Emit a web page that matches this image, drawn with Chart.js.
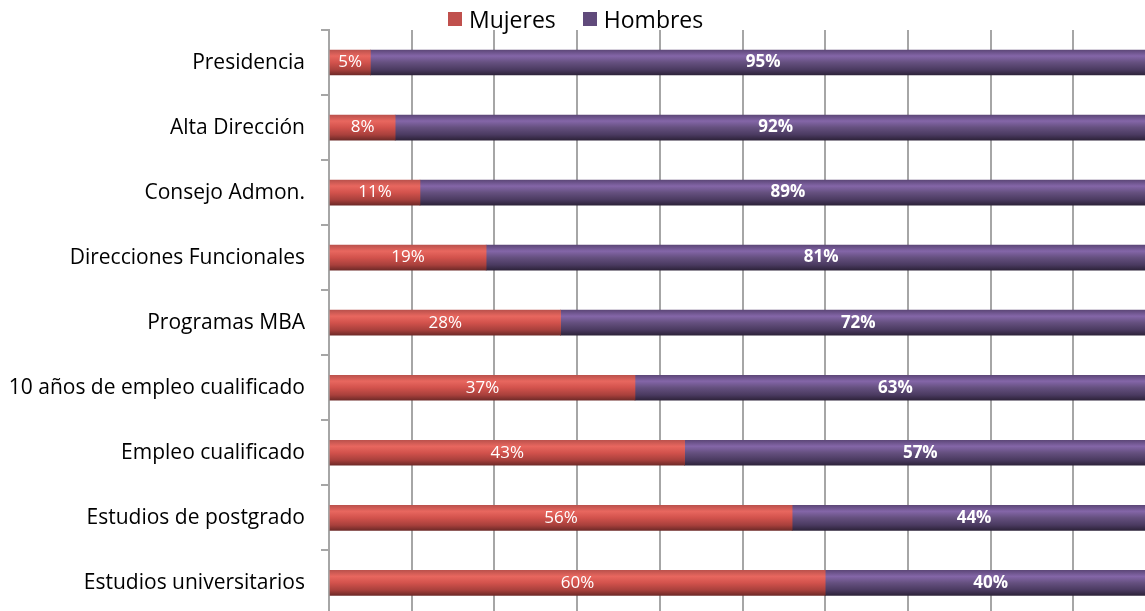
<!DOCTYPE html>
<html>
<head>
<meta charset="utf-8">
<script src="https://cdn.jsdelivr.net/npm/chart.js@4.4.0/dist/chart.umd.min.js"></script>
<style>
  body { margin: 0; overflow: hidden; background: #fff; width: 1145px; height: 611px; position: relative; }
  #wrap { position: absolute; left: 0; top: 0; }
  #legend { position: absolute; left: 448px; top: 3px; display: flex; align-items: center; font-family: "Open Sans", sans-serif; font-size: 23px; color: #000; }
  #legend span.box { display: inline-block; width: 14px; height: 14px; margin-right: 7px; }
  #legend span.item { display: flex; align-items: center; margin-right: 27px; }
</style>
</head>
<body>
<div id="wrap"><canvas id="chart" width="1156" height="644"></canvas></div>
<div id="legend"></div>
<script>
const categories = ['Presidencia', 'Alta Dirección', 'Consejo Admon.', 'Direcciones Funcionales', 'Programas MBA',
    '10 años de empleo cualificado', 'Empleo cualificado', 'Estudios de postgrado', 'Estudios universitarios']
const mujeres = [5, 8, 11, 19, 28, 37, 43, 56, 60]
const hombres = [95, 92, 89, 81, 72, 63, 57, 44, 40]
const seriesNames = ['Mujeres', 'Hombres']
const seriesColors = ['#c0504d', '#604a7b']

// gradient stops to imitate the rounded 3D look of the bars
const gradStops = [
    ['#b8504b', '#e8675f', '#d2524c', '#a8403c', '#6a2826'],
    ['#5a4575', '#8466a8', '#65507f', '#4a3a60', '#2b2137']
]

const legendBox = document.getElementById('legend')
seriesNames.forEach(function (name, i) {
    let item = document.createElement('span')
    item.className = 'item'
    item.innerHTML = '<span class="box" style="background:' + seriesColors[i] + '"></span>' + name
    legendBox.appendChild(item)
})

function barGradient(ctx, s) {
    const chart = ctx.chart
    const yScale = chart.scales.y
    if (!yScale || ctx.dataIndex === undefined) return seriesColors[s]
    const yc = yScale.getPixelForValue(ctx.dataIndex)
    if (!isFinite(yc)) return seriesColors[s]
    const h = 13
    const g = chart.ctx.createLinearGradient(0, yc - h, 0, yc + h)
    g.addColorStop(0, gradStops[s][0])
    g.addColorStop(0.25, gradStops[s][1])
    g.addColorStop(0.5, gradStops[s][2])
    g.addColorStop(0.78, gradStops[s][3])
    g.addColorStop(1, gradStops[s][4])
    return g
}

const barLabels = {
    id: 'barLabels',
    afterDatasetsDraw(chart) {
        const ctx = chart.ctx
        ctx.save()
        ctx.fillStyle = '#ffffff'
        ctx.textAlign = 'center'
        ctx.textBaseline = 'middle'
        chart.data.datasets.forEach(function (ds, i) {
            const meta = chart.getDatasetMeta(i)
            ctx.font = (i === 1 ? 'bold ' : '') + '17px "Open Sans", sans-serif'
            meta.data.forEach(function (bar, j) {
                const p = bar.getProps(['x', 'y', 'base'], true)
                ctx.fillText(ds.data[j] + '%', (p.x + p.base) / 2, p.y)
            })
        })
        ctx.restore()
    }
}

new Chart(document.getElementById('chart'), {
    type: 'bar',
    data: {
        labels: categories,
        datasets: [{
            label: seriesNames[0],
            data: mujeres,
            backgroundColor: function (c) { return barGradient(c, 0) },
            barThickness: 25
        }, {
            label: seriesNames[1],
            data: hombres,
            backgroundColor: function (c) { return barGradient(c, 1) },
            barThickness: 25
        }]
    },
    options: {
        indexAxis: 'y',
        responsive: false,
        animation: false,
        devicePixelRatio: 1,
        layout: { padding: { top: 30, right: 0, bottom: 0, left: 0 } },
        plugins: {
            legend: { display: false },
            tooltip: { enabled: false }
        },
        scales: {
            x: {
                stacked: true,
                min: 0,
                max: 100,
                afterFit: function (scale) { scale.height = 0 },
                ticks: { display: false, stepSize: 10 },
                grid: { color: '#a6a6a6', lineWidth: 2, drawTicks: false },
                border: { display: false }
            },
            y: {
                stacked: true,
                afterFit: function (scale) { scale.width = 329 },
                ticks: { color: '#000', padding: 16, font: { family: '"Open Sans", sans-serif', size: 21 } },
                grid: { offset: true, drawOnChartArea: false, tickLength: 8, color: '#a6a6a6', lineWidth: 2 },
                border: { display: true, color: '#a6a6a6', width: 2 }
            }
        }
    },
    plugins: [barLabels]
})
</script>
</body>
</html>
